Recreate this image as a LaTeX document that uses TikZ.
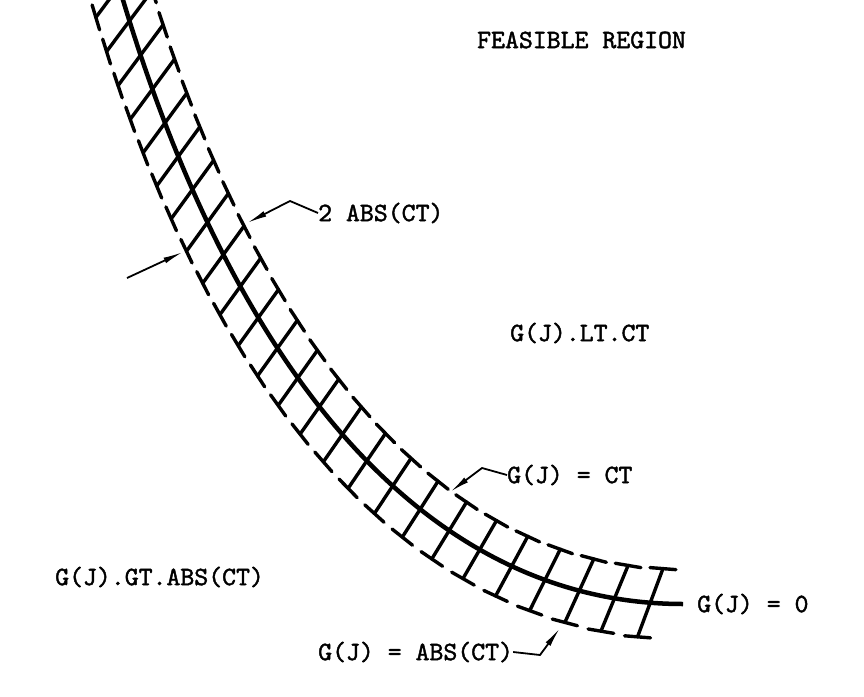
\documentclass[tikz,border=0pt]{standalone}
\usepackage{fontspec}
\newfontfamily\typefont{lmmono10-regular.otf}[FakeBold=1.6]
\usetikzlibrary{positioning,arrows.meta,decorations.markings}
\tikzset{>={Latex[length=20pt,width=6pt]}}

\begin{document}
\begin{tikzpicture}[x=1pt,y=-1pt,
    centre line/.style={line width=4.5pt},
    rung/.style={line width=3.4pt,line cap=round},
    leader/.style={line width=1.8pt,line join=round,->},
    typed/.style={font=\typefont\fontsize{26.5}{30}\selectfont,inner sep=0pt,anchor=west}]
    \useasboundingbox (0,0) rectangle (864,696);
    \clip (0,0) rectangle (864,696);
    % band of width 2 ABS(CT) around G(J) = 0
    \draw[centre line, postaction={decorate, decoration={markings,
        mark=between positions 22pt and 890pt step 36pt with {
            \pgfmathsetmacro\bandf{(\pgfkeysvalueof{/pgf/decoration/mark info/sequence number}-1)/24}
            \pgfmathsetmacro\bandw{31+4*\bandf*\bandf}
            \pgfmathsetmacro\upoff{(-46+30*\bandf+36*\bandf*\bandf)/2}
            \pgfmathsetmacro\lowoff{(46-30*\bandf-36*\bandf*\bandf)/2}
            \draw[rung] (\lowoff pt,-\bandw pt) -- (\upoff pt,\bandw pt);
            \draw[rung] (\lowoff pt-13pt,-\bandw pt) -- (\lowoff pt+13pt,-\bandw pt);
            \draw[rung] (\upoff pt-13pt,\bandw pt) -- (\upoff pt+13pt,\bandw pt);
        }}}]
        (112.6,-34.6) -- (123,0) .. controls (239,384) and (433,604) .. (683,604);
    % labels
    \node[typed] (feasible) at (477,40) {FEASIBLE REGION};
    \node[typed] (absct) at (318,213) {2 ABS(CT)};
    \node[typed] (ltct) at (510,333) {G(J).LT.CT};
    \node[typed] (ct) at (507,475) {G(J) = CT};
    \node[typed] (gtabs) at (55,577) {G(J).GT.ABS(CT)};
    \node[typed] (zero) at (697,604) {G(J) = 0};
    \node[typed] (abs) at (318,652) {G(J) = ABS(CT)};
    % leaders
    \coordinate (absbend) at (290,201);
    \coordinate (uptip) at (247,223);
    \coordinate (lowtail) at (127,278);
    \coordinate (lowtip) at (183,252);
    \coordinate (ctbend) at (482,468);
    \coordinate (cttip) at (450,492);
    \coordinate (absend) at (540,655);
    \coordinate (abstip) at (560,628);
    \draw[leader] (absct.west) -- (absbend) -- (uptip);
    \draw[leader] (lowtail) -- (lowtip);
    \draw[leader] (ct.west) -- (ctbend) -- (cttip);
    \draw[leader] (abs.east) -- (absend) -- (abstip);
\end{tikzpicture}
\end{document}
